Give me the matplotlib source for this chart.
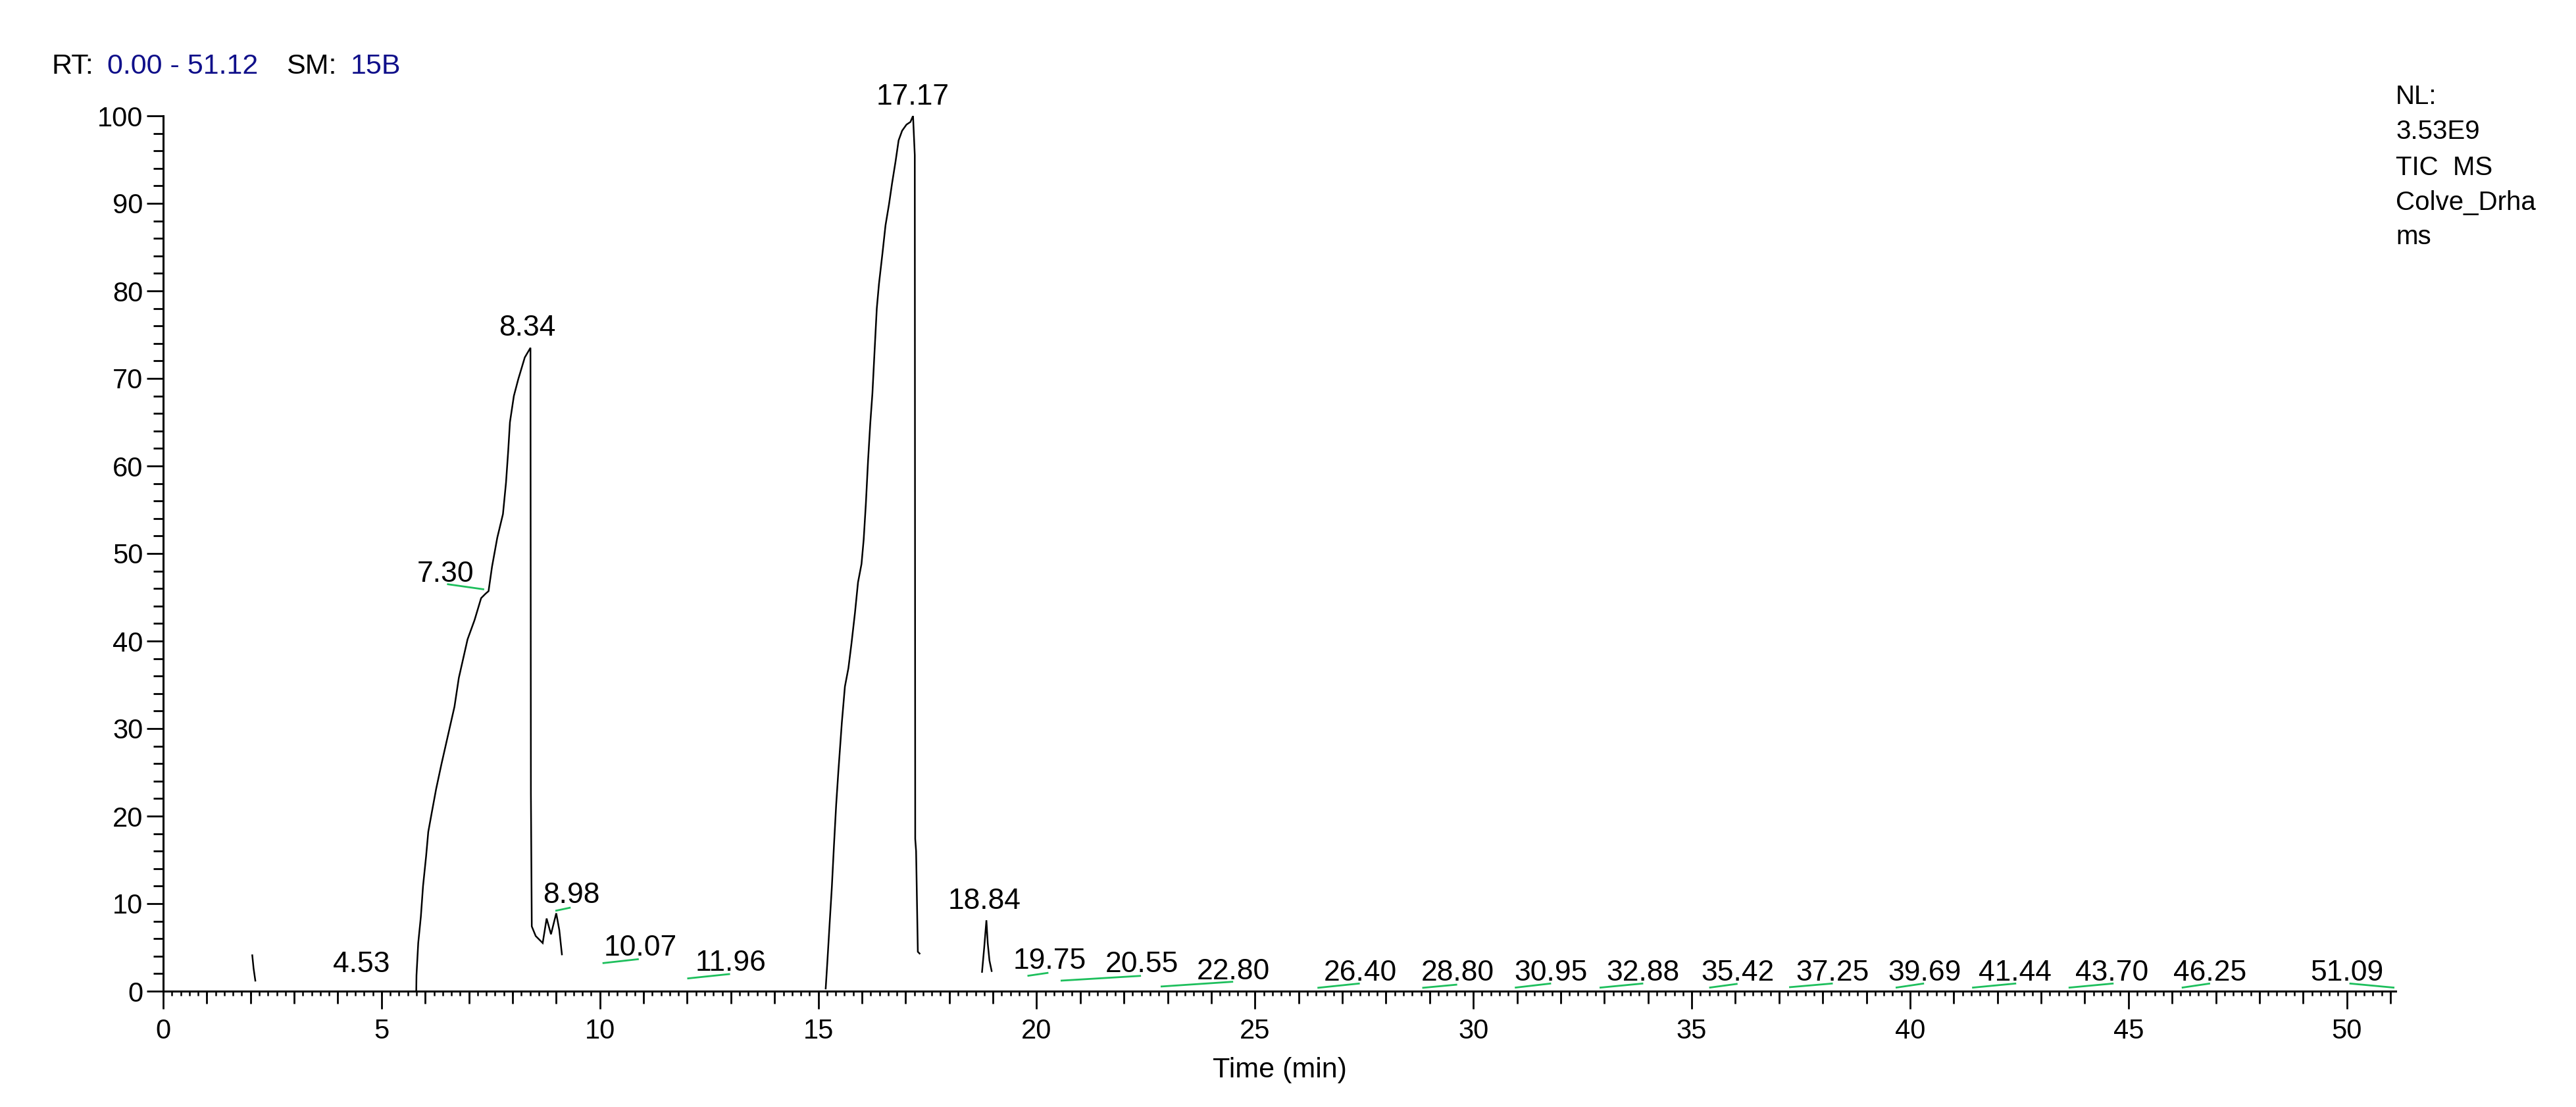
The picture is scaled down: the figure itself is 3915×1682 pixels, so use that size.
import numpy as np
import matplotlib
matplotlib.use("Agg")
import matplotlib.pyplot as plt
from matplotlib.ticker import MultipleLocator, NullFormatter
from matplotlib.collections import LineCollection

plt.rcParams['font.family'] = ['Liberation Sans', 'DejaVu Sans']

# ---------------- data ----------------
# chromatogram trace (time in min, relative abundance %), NaN = gap in drawn trace
time_min = [2.04, 2.07, 2.11, np.nan,
            5.795, 5.80, 5.84, 5.90, 5.95, 6.02, 6.07, 6.15, 6.25, 6.37, 6.52, 6.67,
            6.77, 6.87, 6.97, 7.13, 7.28, 7.38, 7.45, 7.53, 7.65, 7.78, 7.85, 7.90,
            7.94, 8.03, 8.13, 8.28, 8.41, 8.42, 8.44, 8.53, 8.69, 8.78, 8.88, 9.00,
            9.07, 9.13, np.nan,
            15.17, 15.21, 15.26, 15.31, 15.36, 15.41, 15.46, 15.54, 15.61, 15.69,
            15.76, 15.84, 15.91, 15.99, 16.04, 16.09, 16.14, 16.19, 16.24, 16.29,
            16.34, 16.39, 16.47, 16.54, 16.62, 16.69, 16.77, 16.84, 16.92, 17.02,
            17.11, 17.17, 17.21, 17.22, 17.24, 17.28, 17.32, np.nan,
            18.75, 18.80, 18.85, 18.88, 18.92, 18.97]
rel_abund = [4.1, 2.6, 1.2, np.nan,
             0.0, 1.8, 5.5, 8.5, 12.0, 15.4, 18.2, 20.4, 23.1, 25.9, 29.2, 32.5,
             35.8, 38.0, 40.2, 42.4, 44.9, 45.4, 45.7, 48.5, 51.8, 54.5, 58.1, 61.7,
             65.0, 68.0, 69.9, 72.4, 73.5, 22.6, 7.4, 6.3, 5.5, 8.3, 6.5, 8.9,
             7.0, 4.2, np.nan,
             0.3, 3.5, 7.7, 11.8, 16.7, 21.3, 25.1, 30.7, 34.8, 36.9,
             39.7, 43.2, 46.7, 48.8, 51.6, 55.7, 60.6, 64.8, 68.3, 73.2,
             78.0, 80.8, 84.3, 87.5, 89.9, 92.3, 94.8, 97.2, 98.3, 99.0,
             99.3, 100.0, 95.5, 17.4, 16.0, 4.5, 4.3, np.nan,
             2.2, 5.0, 8.1, 5.5, 3.5, 2.3]

# peak labels: text, x centre, baseline y
peak_labels = ['4.53', '7.30', '8.34', '8.98', '10.07', '11.96', '17.17', '18.84',
               '19.75', '20.55', '22.80', '26.40', '28.80', '30.95', '32.88',
               '35.42', '37.25', '39.69', '41.44', '43.70', '46.25', '51.09']
label_x = [4.54, 6.47, 8.34, 9.35, 10.92, 13.00, 17.16, 18.81,
           20.30, 22.41, 24.50, 27.41, 29.64, 31.78, 33.88,
           36.05, 38.23, 40.34, 42.40, 44.62, 46.86, 50.01]
label_y = [2.2, 46.8, 74.9, 10.1, 4.09, 2.33, 101.3, 9.43,
           2.58, 2.2, 1.33, 1.2, 1.2, 1.2, 1.2,
           1.2, 1.2, 1.2, 1.2, 1.2, 1.2, 1.2]

# integration baseline segments (green)
base_x0 = [6.50, 8.98, 10.06, 12.00, 19.79, 20.55, 22.84, 26.43, 28.83, 30.95,
           32.89, 35.40, 37.23, 39.67, 41.42, 43.63, 46.22, 50.06]
base_y0 = [46.5, 9.18, 3.20, 1.45, 1.75, 1.20, 0.53, 0.38, 0.38, 0.40,
           0.40, 0.40, 0.45, 0.40, 0.40, 0.40, 0.40, 0.88]
base_x1 = [7.35, 9.33, 10.89, 12.98, 20.27, 22.39, 24.50, 27.40, 29.63, 31.78,
           33.89, 36.05, 38.23, 40.32, 42.43, 44.66, 46.87, 51.09]
base_y1 = [45.9, 9.55, 3.66, 1.96, 2.10, 1.75, 1.08, 0.88, 0.75, 0.88,
           0.88, 0.84, 0.88, 0.88, 0.88, 0.88, 0.88, 0.40]

x_ticks = [0, 5, 10, 15, 20, 25, 30, 35, 40, 45, 50]
y_ticks = [0, 10, 20, 30, 40, 50, 60, 70, 80, 90, 100]
x_range = (0.0, 51.12)
info_lines = ['NL:', '3.53E9', 'TIC  MS', 'Colve_Drha', 'ms']

# ---------------- figure ----------------
W, H = 3916, 1682
fig = plt.figure(figsize=(W / 100, H / 100), dpi=100)
fig.patch.set_facecolor('white')
left, right = 248 / W, 3641 / W
bottom, top = 1 - 1506 / H, 1 - 176 / H
ax = fig.add_axes([left, bottom, right - left, top - bottom])

ax.plot(time_min, rel_abund, color='black', lw=1.8, solid_joinstyle='miter', zorder=3)

segs = [[(a, b), (c, d)] for a, b, c, d in zip(base_x0, base_y0, base_x1, base_y1)]
ax.add_collection(LineCollection(segs, colors='#1dbf5c', linewidths=2.0, zorder=2))

for t, x, y in zip(peak_labels, label_x, label_y):
    ax.text(x, y, t, ha='center', va='baseline', fontsize=32, color='black',
            clip_on=False, zorder=4)

ax.set_xlim(*x_range)
ax.set_ylim(0, 100)
for s in ['top', 'right']:
    ax.spines[s].set_visible(False)
for s in ['left', 'bottom']:
    ax.spines[s].set_linewidth(2.2)

ax.set_xticks(x_ticks)
ax.set_xticklabels([str(v) for v in x_ticks])
ax.xaxis.set_minor_locator(MultipleLocator(1))
ax.set_yticks(y_ticks)
ax.set_yticklabels([str(v) for v in y_ticks])
ax.yaxis.set_minor_locator(MultipleLocator(2))
ax.tick_params(axis='x', which='major', direction='out', length=19.4, width=2.0,
               labelsize=30, pad=10)
ax.tick_params(axis='x', which='minor', direction='out', length=13.7, width=2.0)
ax.tick_params(axis='y', which='major', direction='out', length=18, width=2.0,
               labelsize=30, pad=4)
ax.tick_params(axis='y', which='minor', direction='out', length=10.8, width=2.0)

sec = ax.secondary_xaxis('bottom')
sec.set_xticks(np.arange(0, 51.2, 0.2))
sec.xaxis.set_major_formatter(NullFormatter())
sec.tick_params(axis='x', direction='out', length=5, width=1.8)
sec.spines['bottom'].set_visible(False)

ax.set_xlabel('Time (min)', fontsize=31, va='baseline')
ax.xaxis.set_label_coords(0.5, (1506 - 1637) / (1506 - 176))

# header
hb = 1 - 112 / H
navy = '#10108a'
fig.text(78 / W, hb, 'RT:', fontsize=31, color='black', va='baseline')
fig.text(163 / W, hb, '0.00 - 51.12', fontsize=31, color=navy, va='baseline')
fig.text(435 / W, hb, 'SM:', fontsize=31, color='black', va='baseline')
fig.text(533 / W, hb, '15B', fontsize=31, color=navy, va='baseline')

info_base = [158, 211, 266, 319, 371]
for line, b in zip(info_lines, info_base):
    fig.text(3641 / W, 1 - b / H, line, fontsize=29, color='black', va='baseline')

fig.savefig('out.png', dpi=100, facecolor='white')
